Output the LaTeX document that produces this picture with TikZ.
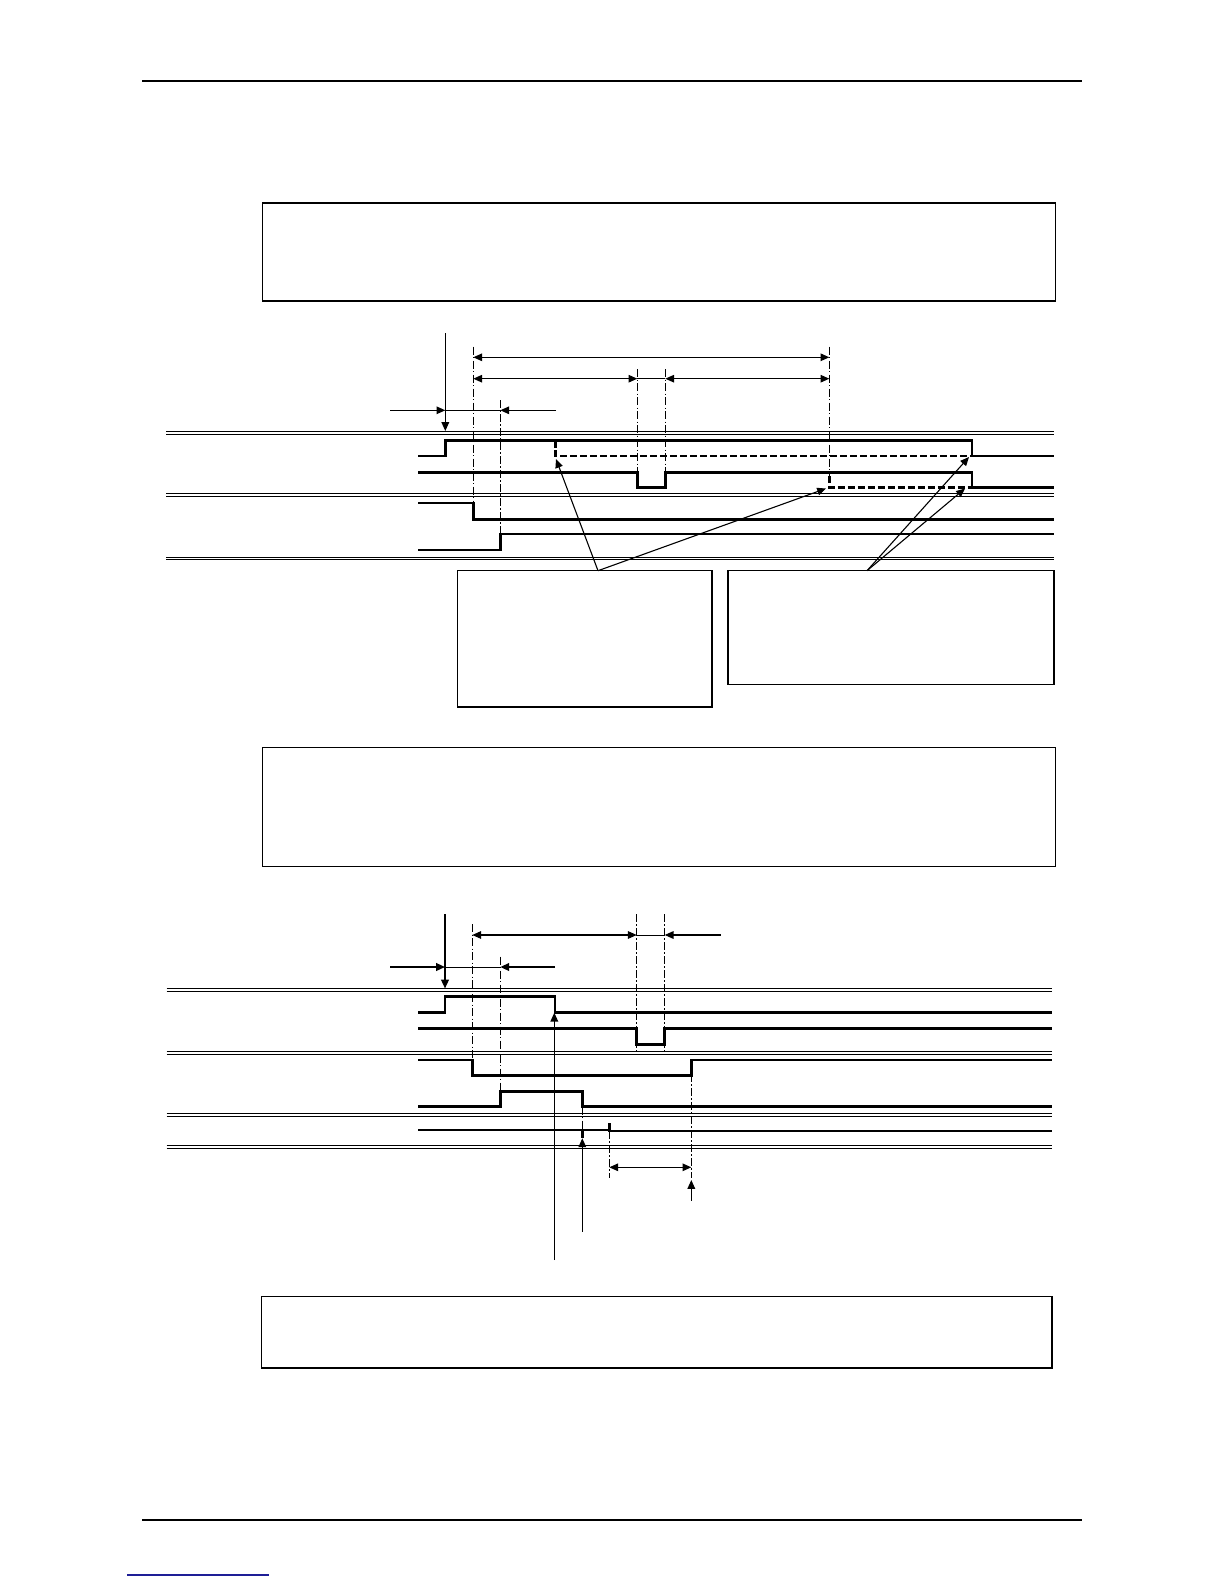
\documentclass[tikz,border=0pt]{standalone}
\usetikzlibrary{arrows.meta,fit}
\begin{document}
\begin{tikzpicture}[x=0.5pt,y=-0.5pt,
  sig/.style={line width=1.35pt,line join=miter},
  thinsig/.style={line width=0.6pt},
  sigdash/.style={line width=1.35pt,dash pattern=on 3.6pt off 1.4pt},
  rail/.style={line width=0.45pt},
  guide/.style={line width=0.5pt,dash pattern=on 4pt off 1.2pt on 0.6pt off 1.2pt},
  tip/.style={-{Triangle[length=4.4pt,width=3.8pt]}},
  dim/.style={line width=0.55pt,{Triangle[length=4.4pt,width=3.8pt]}-{Triangle[length=4.4pt,width=3.8pt]}},
  lead/.style={line width=0.55pt,tip},
  leadthick/.style={line width=0.9pt,tip},
  box/.style={draw,line width=0.75pt,inner sep=0pt,rectangle},
  rule/.style={line width=0.65pt}]
\useasboundingbox[fill=white] (0,0) rectangle (1224,1584);

% page rules
\coordinate (h1) at (142,81);  \coordinate (h2) at (1082,81);
\draw[rule] (h1) -- (h2);
\coordinate (f1) at (142,1520); \coordinate (f2) at (1082,1520);
\draw[rule] (f1) -- (f2);
\coordinate (u1) at (127,1575); \coordinate (u2) at (269,1575);
\draw[line width=0.7pt,color={rgb,255:red,30;green,30;blue,150}] (u1) -- (u2);

% boxes
\node[box,fit={(262.6,203) (1055.5,301)}] (b1) {};
\node[box,fit={(262.6,747.5) (1055.5,866.7)}] (b2) {};
\node[box,fit={(261.5,1296.3) (1052,1368)}] (b3) {};
\node[box,fit={(457.5,570.7) (712,707)}] (cl) {};
\node[box,fit={(728,570.7) (1054,684.3)}] (cr) {};

% ================= diagram 1 =================
\foreach \y in {432.7,495,558.3}{
  \draw[rail] (166,\y-1.25) -- (1054,\y-1.25);
  \draw[rail] (166,\y+1.25) -- (1054,\y+1.25);}

% guides
\draw[guide] (473.3,346.7) -- (473.3,503);
\draw[guide] (500.3,400) -- (500.3,534);
\draw[guide] (637.3,369.3) -- (637.3,487.7);
\draw[guide] (665.3,369.3) -- (665.3,472.3);
\draw[guide] (829.3,346.7) -- (829.3,476);

% signals
\draw[sig] (418,456) -- (445.3,456) -- (445.3,440.3) -- (972,440.3) -- (972,456) -- (1054,456);
\draw[sigdash] (555.7,440.3) -- (555.7,456) -- (972,456);
\draw[sig] (418,472.3) -- (637.3,472.3) -- (637.3,487.7) -- (665.3,487.7) -- (665.3,472.3) -- (972,472.3) -- (972,487.7) -- (1054,487.7);
\draw[sigdash] (829.3,476) -- (829.3,487.7) -- (972,487.7);
\draw[sig] (418,503) -- (473.3,503) -- (473.3,519.3) -- (1054,519.3);
\draw[sig] (418,550) -- (500.3,550) -- (500.3,534) -- (1054,534);

% trigger arrow
\coordinate (t1a) at (445.3,333); \coordinate (t1b) at (445.3,431);
\draw[lead] (t1a) -- (t1b);

% dimension arrows
\coordinate (a1) at (473.3,357.3); \coordinate (a2) at (829.3,357.3);
\draw[dim] (a1) -- (a2);
\coordinate (b1a) at (473.3,378.7); \coordinate (b1b) at (637.3,378.7);
\coordinate (b1c) at (665.3,378.7); \coordinate (b1d) at (829.3,378.7);
\draw[dim] (b1a) -- (b1b);
\draw[line width=0.4pt] (b1b) -- (b1c);
\draw[dim] (b1c) -- (b1d);
\coordinate (c1a) at (390,410.3); \coordinate (c1b) at (445.3,410.3);
\coordinate (c1c) at (500.3,410.3); \coordinate (c1d) at (556,410.3);
\draw[lead] (c1a) -- (c1b);
\draw[line width=0.4pt] (c1b) -- (c1c);
\draw[lead] (c1d) -- (c1c);

% callout leaders
\coordinate (clp) at (598,570.7);
\coordinate (crp) at (867,570.7);
\coordinate (p1) at (556,459); \coordinate (p2) at (826,488.5);
\coordinate (p3) at (969,457); \coordinate (p4) at (965,488.5);
\draw[lead] (clp) -- (p1);
\draw[lead] (clp) -- (p2);
\draw[lead] (crp) -- (p3);
\draw[lead] (crp) -- (p4);

% ================= diagram 2 =================
\foreach \y in {990,1053,1114.7,1146.7}{
  \draw[rail] (166.7,\y-1.25) -- (1052,\y-1.25);
  \draw[rail] (166.7,\y+1.25) -- (1052,\y+1.25);}

% guides
\draw[guide] (472.3,924.3) -- (472.3,1075.3);
\draw[guide] (500.3,956.7) -- (500.3,1091.3);
\draw[guide] (636.7,914) -- (636.7,1052);
\draw[guide] (664.7,914) -- (664.7,1052);
\draw[guide] (691.3,1060) -- (691.3,1178);
\draw[guide] (582.3,1106.7) -- (582.3,1130);
\draw[guide] (609.3,1131) -- (609.3,1178);

% signals
\draw[sig] (418,1012.7) -- (445,1012.7) -- (445,996.7) -- (555,996.7) -- (555,1012.7) -- (1052,1012.7);
\draw[sig] (418,1028.7) -- (636.7,1028.7) -- (636.7,1044.3) -- (664.7,1044.3) -- (664.7,1028.7) -- (1052,1028.7);
\draw[sig] (418,1060) -- (472.3,1060) -- (472.3,1075.3) -- (691.3,1075.3) -- (691.3,1060) -- (1052,1060);
\draw[sig] (418,1106.7) -- (500.3,1106.7) -- (500.3,1091.3) -- (582.3,1091.3) -- (582.3,1106.7) -- (1052,1106.7);
\draw[thinsig] (418,1130) -- (609.3,1130);
\draw[sig] (609.3,1123) -- (609.3,1131) -- (1052,1131);
\draw[sig] (582.3,1130) -- (582.3,1138);

% trigger arrow
\coordinate (t2a) at (445,914); \coordinate (t2b) at (445,988.5);
\draw[leadthick] (t2a) -- (t2b);

% dimension arrows
\coordinate (d1a) at (472.3,935); \coordinate (d1b) at (636.7,935);
\coordinate (d1c) at (664.7,935); \coordinate (d1d) at (720.7,935);
\draw[dim] (d1a) -- (d1b);
\draw[line width=0.4pt] (d1b) -- (d1c);
\draw[lead] (d1d) -- (d1c);
\coordinate (e1a) at (390,967); \coordinate (e1b) at (445,967);
\coordinate (e1c) at (500.3,967); \coordinate (e1d) at (555,967);
\draw[leadthick] (e1a) -- (e1b);
\draw[line width=0.4pt] (e1b) -- (e1c);
\draw[leadthick] (e1d) -- (e1c);
\coordinate (g1a) at (609.3,1167.3); \coordinate (g1b) at (691.3,1167.3);
\draw[dim] (g1a) -- (g1b);

% upward leaders
\coordinate (k1a) at (691.3,1200.7); \coordinate (k1b) at (691.3,1180);
\draw[lead] (k1a) -- (k1b);
\coordinate (k2a) at (582.3,1231.7); \coordinate (k2b) at (582.3,1138.3);
\draw[lead] (k2a) -- (k2b);
\coordinate (k3a) at (554.3,1260); \coordinate (k3b) at (554.3,1012.7);
\draw[lead] (k3a) -- (k3b);
\end{tikzpicture}
\end{document}
